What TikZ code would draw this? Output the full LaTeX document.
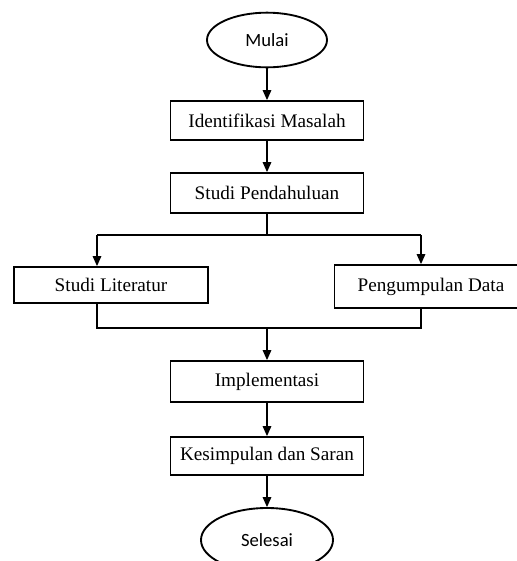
\documentclass[tikz,border=0pt]{standalone}
\usepackage{fontspec}
\setmainfont{Liberation Serif}
\newfontfamily\calibri{Carlito}
\usepackage{tikz}
\usetikzlibrary{calc,shapes.geometric,arrows.meta}

\begin{document}
\begin{tikzpicture}[x=0.75pt,y=-0.75pt]
            \tikzset{Step/.style={draw,line width=1.4pt,inner sep=0pt,minimum width=144.75pt,font=\fontsize{14.4}{17}\selectfont}};
            \tikzset{Term/.style={draw,ellipse,line width=1.4pt,inner sep=0pt,font=\calibri\fontsize{14}{17}\selectfont}};
            \tikzset{Flow/.style={line width=0.8pt,-{Triangle[length=7.5pt,width=6.5pt]}}};
            \tikzset{Line/.style={line width=0.8pt}};
            \clip (0,0) rectangle (517,561);

            \node[Term,minimum width=90pt,minimum height=41pt] (mulai) at (267,40){Mulai};
            \node[Step,minimum height=29.25pt] (identifikasi) at (267,120.5){Identifikasi Masalah};
            \node[Step,minimum height=30pt] (pendahuluan) at (267,193){Studi Pendahuluan};
            \node[Step,minimum width=145.5pt,minimum height=27pt] (literatur) at (111,285){Studi Literatur};
            \node[Step,minimum height=32.25pt] (pengumpulan) at (431,286.5){Pengumpulan Data};
            \node[Step,minimum height=30.75pt] (implementasi) at (267,381.5){Implementasi};
            \node[Step,minimum height=28.5pt] (kesimpulan) at (267,456){Kesimpulan dan Saran};
            \node[Term,minimum width=99pt,minimum height=48pt] (selesai) at (267,540){Selesai};

            \coordinate (bagi) at (267,235);
            \coordinate (bagiL) at (97,235);
            \coordinate (bagiR) at (421,235);
            \coordinate (gabung) at (267,328);
            \coordinate (gabungL) at (97,328);
            \coordinate (gabungR) at (421,328);

            \draw[Flow] (mulai) -- (identifikasi);
            \draw[Flow] (identifikasi) -- (pendahuluan);
            \draw[Line] (pendahuluan) -- (bagi);
            \draw[Line] (bagiL) -- (bagiR);
            \draw[Flow] (bagiL) -- (bagiL |- literatur.north);
            \draw[Flow] (bagiR) -- (bagiR |- pengumpulan.north);
            \draw[Line] (gabungL |- literatur.south) -- (gabungL) -- (gabungR) -- (gabungR |- pengumpulan.south);
            \draw[Flow] (gabung) -- (implementasi);
            \draw[Flow] (implementasi) -- (kesimpulan);
            \draw[Flow] (kesimpulan) -- (selesai);
\end{tikzpicture}
\end{document}
